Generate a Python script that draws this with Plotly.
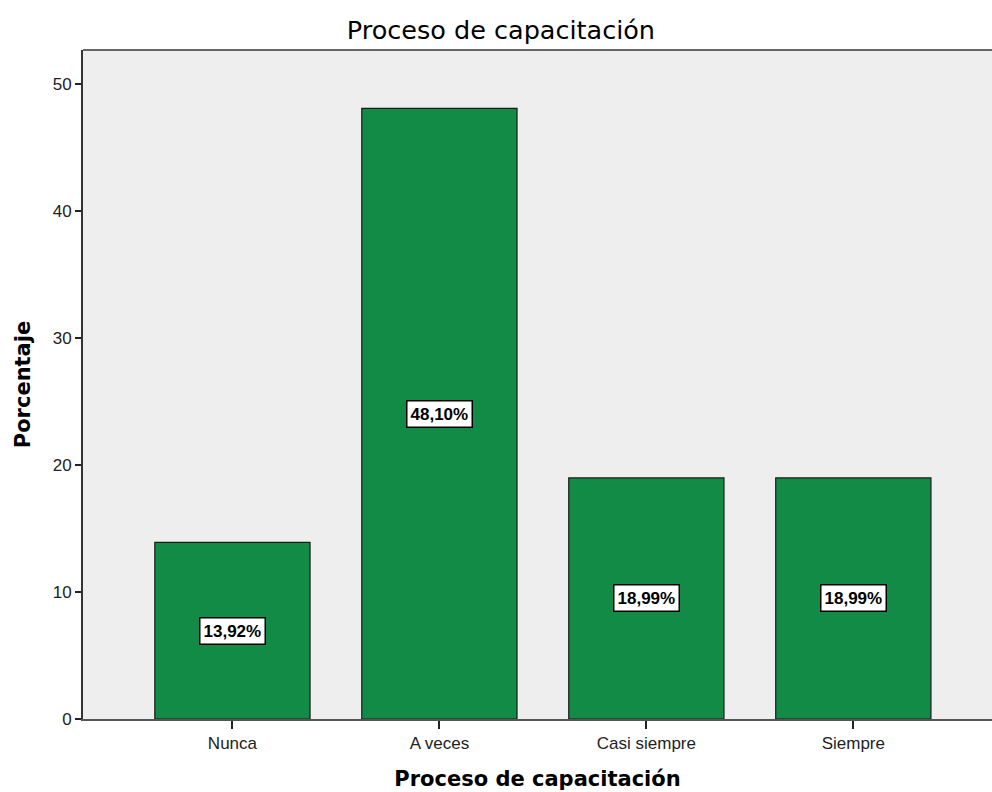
import plotly.graph_objects as go

categories = ["Nunca", "A veces", "Casi siempre", "Siempre"]
values = [13.92, 48.10, 18.99, 18.99]
labels = ["13,92%", "48,10%", "18,99%", "18,99%"]
y_ticks = [0, 10, 20, 30, 40, 50]

fig = go.Figure()
fig.add_trace(go.Bar(
    x=categories, y=values, width=0.75,
    marker=dict(color="#128B47", line=dict(color="#1A1A1A", width=1.2)),
    hoverinfo="skip",
))

for c, v, t in zip(categories, values, labels):
    fig.add_annotation(
        x=c, y=v / 2, text="<b>" + t + "</b>", showarrow=False,
        font=dict(family="Liberation Sans, Arial", size=17, color="black"),
        bgcolor="white", bordercolor="black", borderwidth=1.5, borderpad=3,
    )

fig.add_shape(type="line", xref="paper", yref="paper", x0=0, x1=1, y0=1, y1=1,
              line=dict(color="#666666", width=2))

fig.update_layout(
    width=992, height=792,
    margin=dict(l=83, r=0, t=50, b=73),
    paper_bgcolor="white", plot_bgcolor="#EEEEEE",
    showlegend=False,
    title=dict(text="Proceso de capacitación", x=0.505, xanchor="center",
               y=0.962, yanchor="middle",
               font=dict(family="DejaVu Sans, Liberation Sans", size=25.5, color="black")),
    xaxis=dict(
        type="category", range=[-0.722, 3.67],
        showgrid=False, zeroline=False,
        showline=True, linecolor="#555555", linewidth=2,
        ticks="outside", ticklen=8, tickcolor="#222222", tickwidth=2,
        tickfont=dict(family="Liberation Sans, Arial", size=17, color="#222222"),
        title=dict(text="<b>Proceso de capacitación</b>", standoff=19,
                   font=dict(family="DejaVu Sans, Liberation Sans", size=21, color="black")),
    ),
    yaxis=dict(
        range=[0, 52.7], tickvals=y_ticks,
        showgrid=False, zeroline=False,
        showline=True, linecolor="#333333", linewidth=2,
        ticks="outside", ticklen=6, tickcolor="#222222", tickwidth=2,
        tickfont=dict(family="Liberation Sans, Arial", size=17, color="#222222"),
        title=dict(text="<b>Porcentaje</b>", standoff=16,
                   font=dict(family="DejaVu Sans, Liberation Sans", size=21, color="black")),
    ),
)

fig.write_html("out.html")
